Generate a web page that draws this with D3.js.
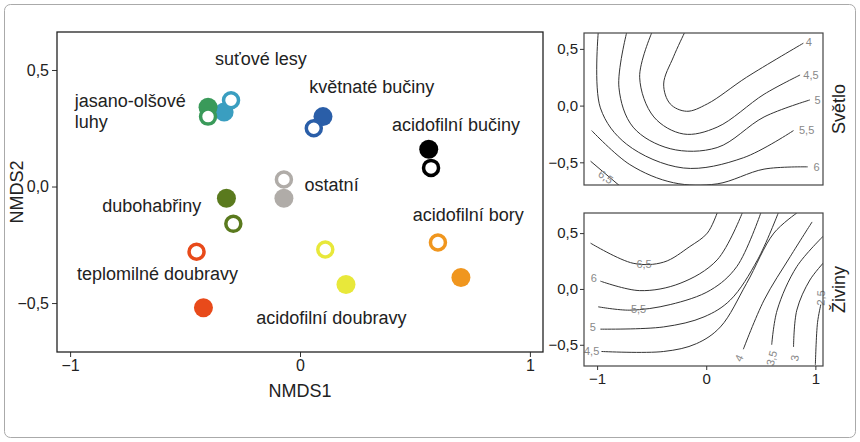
<!DOCTYPE html><html><head><meta charset="utf-8"><script src="https://cdn.jsdelivr.net/npm/d3@7"></script>
<style>body{margin:0;background:#fff}text{font-family:"Liberation Sans",Arial,sans-serif}</style></head><body><svg id="c" width="860" height="442"></svg><script>
const groups=[
 {name:"suťové lesy",color:"#3a9ec0",fill:[-0.33,0.32],open:[-0.30,0.37]},
 {name:"jasano-olšové luhy",color:"#3a9a5a",fill:[-0.40,0.34],open:[-0.40,0.30]},
 {name:"květnaté bučiny",color:"#2a5ea8",fill:[0.10,0.30],open:[0.06,0.25]},
 {name:"acidofilní bučiny",color:"#000000",fill:[0.56,0.16],open:[0.57,0.08]},
 {name:"ostatní",color:"#b0aca8",fill:[-0.07,-0.05],open:[-0.07,0.03]},
 {name:"dubohabřiny",color:"#5a7a1e",fill:[-0.32,-0.05],open:[-0.29,-0.16]},
 {name:"teplomilné doubravy",color:"#e84a1a",fill:[-0.42,-0.52],open:[-0.45,-0.28]},
 {name:"acidofilní doubravy",color:"#e8e83a",fill:[0.20,-0.42],open:[0.11,-0.27]},
 {name:"acidofilní bory",color:"#f0961e",fill:[0.70,-0.39],open:[0.60,-0.24]}];
const labels=[
 {t:"suťové lesy",x:-0.17,y:0.52,a:"middle"},{t:"jasano-olšové",x:-0.98,y:0.34,a:"start"},{t:"luhy",x:-0.98,y:0.25,a:"start"},
 {t:"květnaté bučiny",x:0.04,y:0.40,a:"start"},{t:"acidofilní bučiny",x:0.40,y:0.24,a:"start"},{t:"ostatní",x:0.02,y:-0.02,a:"start"},
 {t:"dubohabřiny",x:-0.86,y:-0.11,a:"start"},{t:"acidofilní bory",x:0.49,y:-0.15,a:"start"},
 {t:"teplomilné doubravy",x:-0.97,y:-0.40,a:"start"},{t:"acidofilní doubravy",x:-0.19,y:-0.59,a:"start"}];
const mainTicksX=[-1,0,1], mainTicksY=[-0.5,0,0.5];
const light=[
 {v:"4",pts:[[-0.20,0.64],[-0.30,0.43],[-0.39,0.19],[-0.33,0.015],[-0.18,-0.05],[0.01,0.015],[0.37,0.25],[0.89,0.55]],lx:0.94,ly:0.56,r:0},
 {v:"4,5",pts:[[-0.50,0.64],[-0.61,0.25],[-0.48,-0.10],[-0.21,-0.25],[0.10,-0.19],[0.53,0.10],[0.86,0.27]],lx:0.96,ly:0.27,r:0},
 {v:"5",pts:[[-0.73,0.64],[-0.80,0.16],[-0.67,-0.19],[-0.33,-0.38],[0.10,-0.37],[0.53,-0.10],[0.95,0.05]],lx:1.02,ly:0.05,r:0},
 {v:"5,5",pts:[[-0.99,0.64],[-0.97,-0.02],[-0.73,-0.34],[-0.21,-0.55],[0.34,-0.46],[0.80,-0.22]],lx:0.92,ly:-0.22,r:0},
 {v:"6",pts:[[-1.05,-0.22],[-0.70,-0.52],[-0.30,-0.68],[0.10,-0.69],[0.53,-0.56],[0.93,-0.54]],lx:1.01,ly:-0.54,r:0},
 {v:"6,5",pts:[[-1.06,-0.49],[-0.79,-0.71]],lx:-0.92,ly:-0.63,r:35}];
const nutr=[
 {v:"6,5",pts:[[-1.06,0.41],[-0.67,0.23],[-0.39,0.24],[-0.15,0.38],[0.01,0.50],[0.10,0.68]],lx:-0.57,ly:0.22,r:0},
 {v:"6",pts:[[-0.97,0.07],[-0.61,-0.015],[-0.24,0.05],[0.10,0.26],[0.33,0.68]],lx:-1.03,ly:0.1,r:0},
 {v:"5,5",pts:[[-0.99,-0.16],[-0.70,-0.19],[-0.33,-0.14],[0.04,-0.01],[0.28,0.20],[0.50,0.68]],lx:-0.62,ly:-0.18,r:0},
 {v:"5",pts:[[-0.97,-0.36],[-0.39,-0.34],[-0.02,-0.25],[0.22,-0.10],[0.47,0.26],[0.66,0.68]],lx:-1.04,ly:-0.34,r:0},
 {v:"4,5",pts:[[-0.96,-0.56],[-0.39,-0.56],[-0.09,-0.49],[0.13,-0.34],[0.37,0.05],[0.62,0.50],[0.83,0.68]],lx:-1.05,ly:-0.56,r:0},
 {v:"4",pts:[[0.34,-0.54],[0.53,-0.10],[0.77,0.29],[0.97,0.60]],lx:0.30,ly:-0.62,r:-65},
 {v:"3,5",pts:[[0.60,-0.50],[0.65,-0.19],[0.83,0.20],[1.08,0.48]],lx:0.60,ly:-0.62,r:-75},
 {v:"3",pts:[[0.80,-0.52],[0.83,-0.19],[0.95,0.08],[1.08,0.24]],lx:0.81,ly:-0.62,r:-80},
 {v:"2,5",pts:[[1.00,-0.68],[1.02,-0.30],[1.05,-0.14]],lx:1.05,ly:-0.08,r:-88}];
const sideTicksX=[-1,0,1], sideTicksY=[-0.5,0,0.5];

const fmt=d=>d3.format(".1f")(d).replace(".",",").replace("-","\u2212");
const fmtX=d=>String(d).replace("-","\u2212");
const svg=d3.select("#c");
svg.append("rect").attr("x",4.5).attr("y",4.5).attr("width",851).attr("height",433).attr("rx",6).attr("fill","none").attr("stroke","#aaa");

const x=d3.scaleLinear().domain([-1.057,1.057]).range([57,543]);
const y=d3.scaleLinear().domain([-0.71,0.663]).range([352,32]);
const g=svg.append("g");
function styleAxis(a,fs){a.selectAll("path").remove();a.selectAll("line").attr("stroke","#333");a.selectAll("text").attr("font-size",fs).attr("fill","#222");}
styleAxis(g.append("g").attr("transform","translate(0,352)").call(d3.axisBottom(x).tickValues(mainTicksX).tickFormat(fmtX).tickSize(5).tickPadding(3)),16);
styleAxis(g.append("g").attr("transform","translate(57,0)").call(d3.axisLeft(y).tickValues(mainTicksY).tickFormat(fmt).tickSize(5).tickPadding(3)),16);
g.append("rect").attr("x",57).attr("y",32).attr("width",486).attr("height",320).attr("fill","none").attr("stroke","#222").attr("stroke-width",1.3);
g.append("text").attr("x",300).attr("y",397).attr("text-anchor","middle").attr("font-size",18).attr("fill","#222").text("NMDS1");
g.append("text").attr("transform","translate(23,192) rotate(-90)").attr("text-anchor","middle").attr("font-size",18).attr("fill","#222").text("NMDS2");
groups.forEach(d=>{
 g.append("circle").attr("cx",x(d.fill[0])).attr("cy",y(d.fill[1])).attr("r",9.5).attr("fill",d.color);
 g.append("circle").attr("cx",x(d.open[0])).attr("cy",y(d.open[1])).attr("r",7.5).attr("fill","#fff").attr("stroke",d.color).attr("stroke-width",3.5);
});
labels.forEach(l=>g.append("text").attr("x",x(l.x)).attr("y",y(l.y)).attr("text-anchor",l.a).attr("font-size",18).attr("fill","#222").text(l.t));

function panel(top,bottom,yd,lines,title,showX){
 const sx=d3.scaleLinear().domain([-1.12,1.07]).range([584,823]);
 const sy=d3.scaleLinear().domain(yd).range([bottom,top]);
 const p=svg.append("g");
 const cp="clip"+top;
 p.append("clipPath").attr("id",cp).append("rect").attr("x",584).attr("y",top).attr("width",239).attr("height",bottom-top);
 const line=d3.line().x(d=>sx(d[0])).y(d=>sy(d[1])).curve(d3.curveCatmullRom);
 lines.forEach(l=>{
  p.append("path").attr("d",line(l.pts)).attr("fill","none").attr("stroke","#333").attr("stroke-width",1).attr("clip-path",`url(#${cp})`);
  p.append("text").attr("transform",`translate(${sx(l.lx)},${sy(l.ly)}) rotate(${l.r})`).attr("text-anchor","middle").attr("dy","0.35em").attr("font-size",11).attr("fill","#888").text(l.v);
 });
 p.append("rect").attr("x",584).attr("y",top).attr("width",239).attr("height",bottom-top).attr("fill","none").attr("stroke","#444").attr("stroke-width",1.2);
 styleAxis(p.append("g").attr("transform","translate(584,0)").call(d3.axisLeft(sy).tickValues(sideTicksY).tickFormat(fmt).tickSize(4).tickPadding(2)),15);
 if(showX) styleAxis(p.append("g").attr("transform",`translate(0,${bottom})`).call(d3.axisBottom(sx).tickValues(sideTicksX).tickFormat(fmtX).tickSize(4).tickPadding(3)),15);
 p.append("text").attr("transform",`translate(845,${(top+bottom)/2}) rotate(-90)`).attr("text-anchor","middle").attr("font-size",18).attr("fill","#222").text(title);
}
panel(33,185,[-0.70,0.64],light,"Světlo",false);
panel(213,366,[-0.69,0.68],nutr,"Živiny",true);
</script></body></html>
